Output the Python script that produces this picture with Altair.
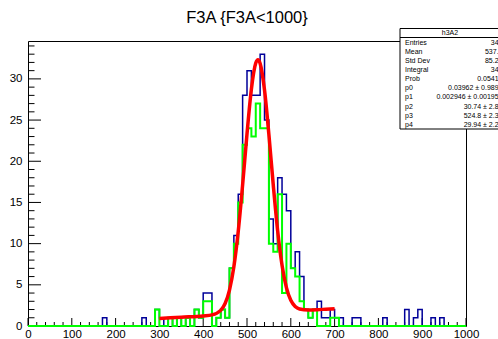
import altair as alt
import pandas as pd

# ---------------- data ----------------
bin_width = 10
blue_counts = [
    0, 0, 0, 0, 0, 0, 0, 0, 0, 0,
    0, 0, 0, 0, 0, 0, 0, 1, 0, 0,
    0, 0, 0, 0, 0, 0, 1, 0, 0, 2,
    1, 0, 1, 0, 1, 0, 1, 0, 2, 1,
    4, 4, 0, 1, 2, 1, 7, 11, 16, 28,
    31, 28, 28, 33, 25, 13, 10, 18, 16, 14,
    7, 9, 6, 2, 1, 2, 3, 1, 1, 2,
    1, 1, 0, 0, 1, 1, 0, 0, 0, 0,
    0, 1, 0, 0, 0, 0, 2, 0, 1, 2,
    0, 0, 1, 0, 1, 0, 0, 0, 0, 0,
]
green_counts = [
    0, 0, 0, 0, 0, 0, 0, 0, 0, 0,
    0, 0, 0, 0, 0, 0, 0, 0, 0, 0,
    0, 0, 0, 0, 0, 0, 0, 0, 0, 2,
    0, 0, 1, 0, 1, 0, 1, 0, 2, 1,
    3, 3, 0, 1, 2, 1, 7, 10, 15, 22,
    24, 23, 27, 24, 24, 10, 9, 16, 4, 10,
    7, 6, 3, 2, 1, 2, 0, 0, 0, 1,
    1, 0, 0, 0, 0, 0, 0, 0, 0, 0,
    0, 0, 0, 0, 0, 0, 0, 0, 0, 0,
    0, 0, 0, 0, 0, 0, 0, 0, 0, 0,
]
fit_x = [300, 350, 400, 420, 440, 450, 460, 470, 480, 490, 500, 510, 520, 525,
         530, 540, 550, 560, 570, 580, 590, 600, 610, 620, 640, 660, 680, 700]
fit_y = [0.92, 1.07, 1.22, 1.35, 1.90, 2.73, 4.36, 7.18, 11.49, 17.13, 23.33,
         28.74, 31.92, 32.33, 31.88, 28.65, 23.23, 17.09, 11.55, 7.37, 4.65,
         3.12, 2.37, 2.07, 1.95, 1.98, 2.04, 2.10]

x_major = [0, 100, 200, 300, 400, 500, 600, 700, 800, 900, 1000]
x_minor = [v for v in range(0, 1001, 20) if v % 100 != 0]
y_major = [0, 5, 10, 15, 20, 25, 30]
y_minor = [v for v in range(0, 35) if v % 5 != 0]

title_text = "F3A {F3A<1000}"
stats_name = "h3A2"
stats_labels = ["Entries", "Mean", "Std Dev", "Integral", "Prob",
                "p0", "p1", "p2", "p3", "p4"]
stats_values = ["347", "537.4", "85.27", "347", "0.05412",
                "0.03962 \u00b1 0.9895", "0.002946 \u00b1 0.001953",
                "30.74 \u00b1 2.82", "524.8 \u00b1 2.31", "29.94 \u00b1 2.27"]

# ---------------- layout ----------------
W, H = 438, 285
X_MAX, Y_MAX = 1000, 34.6
FONT = "Liberation Sans"

xs = alt.Scale(domain=[0, X_MAX], nice=False, zero=False)
ys = alt.Scale(domain=[0, Y_MAX], nice=False, zero=False)
x_axis = alt.Axis(values=x_major, format="d", ticks=False, domain=False,
                  grid=False, labelFont=FONT, labelFontSize=11.5,
                  labelColor="black", labelPadding=2, labelFlush=False,
                  labelOverlap=False, title=None)
y_axis = alt.Axis(values=y_major, format="d", ticks=False, domain=False,
                  grid=False, labelFont=FONT, labelFontSize=11.5,
                  labelColor="black", labelPadding=6, labelFlush=False,
                  labelOverlap=False, title=None)
x_enc = alt.X("x:Q", scale=xs, axis=x_axis)
y_enc = alt.Y("y:Q", scale=ys, axis=y_axis)


def step_frame(counts):
    edges = [i * bin_width for i in range(len(counts) + 1)]
    return pd.DataFrame({"x": edges, "y": counts + [counts[-1]]})


# tick marks (inside the frame, ROOT style)
xt_major = alt.Chart(pd.DataFrame({"x": x_major})).mark_rule(
    color="black", strokeWidth=1).encode(
    x=x_enc, y=alt.value(H), y2=alt.value(H - 8))
xt_minor = alt.Chart(pd.DataFrame({"x": x_minor})).mark_rule(
    color="black", strokeWidth=1).encode(
    x=x_enc, y=alt.value(H), y2=alt.value(H - 4))
yt_major = alt.Chart(pd.DataFrame({"y": y_major})).mark_rule(
    color="black", strokeWidth=1).encode(
    y=y_enc, x=alt.value(0), x2=alt.value(13))
yt_minor = alt.Chart(pd.DataFrame({"y": y_minor})).mark_rule(
    color="black", strokeWidth=1).encode(
    y=y_enc, x=alt.value(0), x2=alt.value(6.5))

blue = alt.Chart(step_frame(blue_counts)).mark_line(
    interpolate="step-after", color="#000099", strokeWidth=1.5).encode(
    x=x_enc, y=y_enc)
green = alt.Chart(step_frame(green_counts)).mark_line(
    interpolate="step-after", color="#00ff00", strokeWidth=2).encode(
    x=x_enc, y=y_enc)
red = alt.Chart(pd.DataFrame({"x": fit_x, "y": fit_y})).mark_line(
    interpolate="monotone", color="#ff0000", strokeWidth=3.5).encode(
    x=x_enc, y=y_enc)

one = pd.DataFrame({"t": [title_text]})
title = alt.Chart(one).mark_text(
    font=FONT, fontSize=16.5, color="black", align="center",
    baseline="alphabetic").encode(
    text="t:N", x=alt.value(W / 2), y=alt.value(-18))

# stats box
BX0, BX1, BY0, BY1 = 372, 472, -12.5, 88
box = alt.Chart(one).mark_rect(
    fill="white", stroke="black", strokeWidth=1).encode(
    x=alt.value(BX0), x2=alt.value(BX1), y=alt.value(BY0), y2=alt.value(BY1))
hdr_line = alt.Chart(one).mark_rule(color="black", strokeWidth=1).encode(
    x=alt.value(BX0), x2=alt.value(BX1), y=alt.value(-3.5))
hdr = alt.Chart(pd.DataFrame({"t": [stats_name]})).mark_text(
    font=FONT, fontSize=7, color="black", align="center",
    baseline="middle").encode(
    text="t:N", x=alt.value((BX0 + BX1) / 2), y=alt.value(-8))

stat_layers = []
row0, row_step = 2.0, 9.08
for i, (lab, val) in enumerate(zip(stats_labels, stats_values)):
    yy = row0 + i * row_step
    df = pd.DataFrame({"l": [lab], "v": [val]})
    stat_layers.append(alt.Chart(df).mark_text(
        font=FONT, fontSize=7, color="black", align="left",
        baseline="middle").encode(text="l:N", x=alt.value(377), y=alt.value(yy)))
    stat_layers.append(alt.Chart(df).mark_text(
        font=FONT, fontSize=7, color="black", align="right",
        baseline="middle").encode(text="v:N", x=alt.value(474.5), y=alt.value(yy)))

chart = alt.layer(
    xt_major, xt_minor, yt_major, yt_minor, blue, green, red, title,
    box, hdr_line, hdr, *stat_layers
).properties(
    width=W, height=H,
    autosize=alt.AutoSizeParams(type="none"),
    padding={"left": 28, "top": 41, "right": 32, "bottom": 13},
    background="white",
).configure_view(stroke="black", strokeWidth=1)

chart.save("out.html", embed_options={"renderer": "svg", "actions": False})
